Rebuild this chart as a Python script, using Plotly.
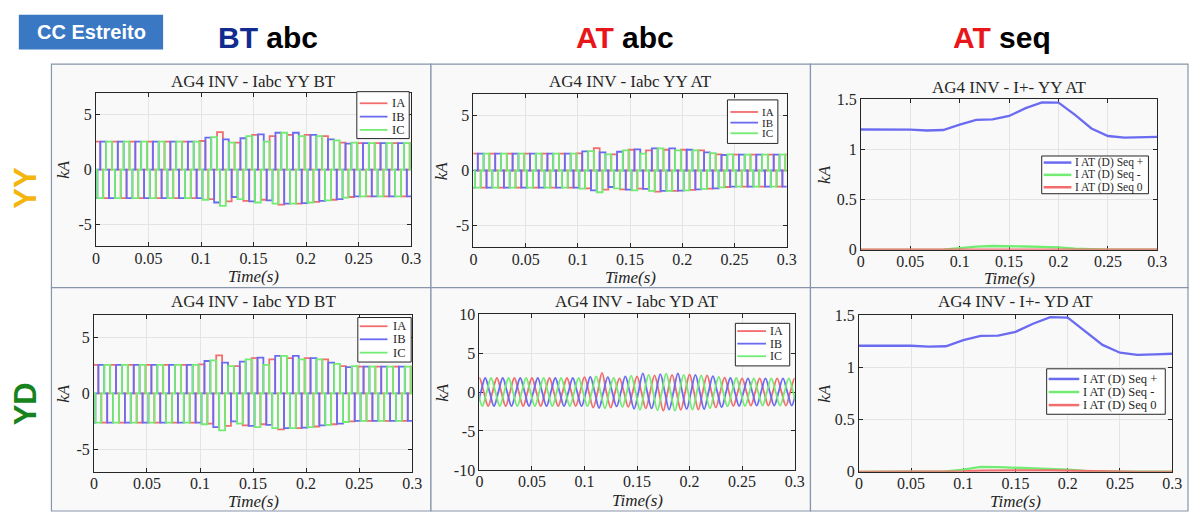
import plotly.graph_objects as go

W, H = 1198, 520
F_HZ = 60.0                      # system frequency
SERIF = "Liberation Serif"
SANS = "Liberation Sans"
INK = "#262626"

TIME_TICKS = [0, 0.05, 0.1, 0.15, 0.2, 0.25, 0.3]
TIME_TICK_TEXT = ["0", "0.05", "0.1", "0.15", "0.2", "0.25", "0.3"]

# ---- 120-degree block currents: magnitude (kA) of each successive block ----
# BT side (identical for YY and YD connections)
IA_BT = [2.55, 2.6] * 6 + [2.6, 2.7, 3.4, 2.9, 2.45, 2.85, 3.15, 2.75, 3.05, 3.2,
                           3.15, 3.1, 3.15, 2.95, 3.05, 2.75, 2.45, 2.5, 2.4, 2.45,
                           2.4, 2.45, 2.4, 2.45, 2.4]
IB_BT = [2.6, 2.55] * 6 + [2.6, 2.9, 3.0, 2.75, 2.5, 2.85, 2.9, 3.2, 2.8, 3.35,
                           3.1, 3.35, 3.05, 3.15, 2.85, 2.75, 2.7, 2.35, 2.45, 2.4,
                           2.45, 2.4, 2.45, 2.4, 2.45]
IC_BT = [2.6, 2.55] * 6 + [2.75, 2.95, 3.3, 2.45, 2.7, 3.05, 3.0, 2.55, 3.1, 3.35,
                           3.1, 3.05, 3.0, 3.05, 2.8, 2.65, 2.55, 2.45, 2.45, 2.4,
                           2.45, 2.4, 2.45, 2.4, 2.45]
# AT side, YY connection
IA_AT_YY = [1.53, 1.56] * 6 + [1.56, 1.62, 2.04, 1.74, 1.47, 1.71, 1.89, 1.65, 1.83, 1.92,
                               1.89, 1.86, 1.89, 1.77, 1.83, 1.65, 1.47, 1.5, 1.44, 1.47,
                               1.44, 1.47, 1.44, 1.47, 1.44]
IB_AT_YY = [1.56, 1.53] * 6 + [1.56, 1.74, 1.8, 1.65, 1.5, 1.71, 1.74, 1.92, 1.68, 2.01,
                               1.86, 2.01, 1.83, 1.89, 1.71, 1.65, 1.62, 1.41, 1.47, 1.44,
                               1.47, 1.44, 1.47, 1.44, 1.47]
IC_AT_YY = [1.56, 1.53] * 6 + [1.65, 1.77, 1.98, 1.47, 1.62, 1.83, 1.8, 1.53, 1.86, 2.01,
                               1.86, 1.83, 1.8, 1.83, 1.68, 1.59, 1.53, 1.47, 1.47, 1.44,
                               1.47, 1.44, 1.47, 1.44, 1.47]

# ---- AT side, YD connection: peak (kA) of each successive half cycle ----
IA_AT_YD = [1.8] * 14 + [1.9, 2.0, 2.45, 2.0, 1.75, 1.9, 2.0, 2.1, 2.15, 2.4,
                         2.2, 2.3, 2.25, 2.25, 2.15, 2.0, 1.85, 1.8] + [1.75] * 8
IB_AT_YD = [1.8] * 14 + [1.95, 2.05, 1.9, 1.85, 2.0, 2.15, 2.4, 2.1, 2.3, 2.25,
                         2.4, 2.2, 2.2, 2.2, 2.05, 1.95, 1.8, 1.8] + [1.75] * 8
IC_AT_YD = [1.8] * 14 + [2.0, 2.1, 1.8, 1.9, 2.1, 2.3, 2.2, 2.35, 2.35, 2.4,
                         2.2, 2.25, 2.15, 2.1, 1.95, 1.85, 1.8, 1.8] + [1.75] * 8

# ---- sequence components (kA), one value per cycle ----
SEQ_T = [0, 0.0167, 0.0333, 0.05, 0.0667, 0.0833, 0.1, 0.1167, 0.1333, 0.15,
         0.1667, 0.1833, 0.2, 0.2167, 0.2333, 0.25, 0.2667, 0.2833, 0.3]
SEQ_POS_YY = [1.2, 1.2, 1.2, 1.198, 1.19, 1.195, 1.248, 1.295, 1.3, 1.335,
              1.413, 1.47, 1.468, 1.345, 1.21, 1.135, 1.118, 1.122, 1.127]
SEQ_NEG_YY = [0, 0, 0, 0, 0, 0.002, 0.018, 0.032, 0.038, 0.038,
              0.033, 0.029, 0.025, 0.012, 0.004, 0.003, 0.002, 0.002, 0.002]
SEQ_ZERO_YY = [0.002] * 19
SEQ_POS_YD = [1.207, 1.207, 1.207, 1.207, 1.198, 1.202, 1.26, 1.302, 1.303, 1.34,
              1.417, 1.48, 1.477, 1.345, 1.215, 1.14, 1.12, 1.125, 1.13]
SEQ_NEG_YD = [0, 0, 0, 0, 0, 0.003, 0.02, 0.048, 0.045, 0.04,
              0.035, 0.03, 0.022, 0.008, 0.003, 0.002, 0.002, 0.002, 0.002]
SEQ_ZERO_YD = [0, 0, 0, 0, 0, 0, 0.005, 0.012, 0.015, 0.015,
               0.014, 0.013, 0.01, 0.004, 0, 0, 0, 0, 0]

PHASE_NAMES = ["IA", "IB", "IC"]
SEQ_NAMES = ["I AT (D) Seq +", "I AT (D) Seq -", "I AT (D) Seq 0"]

RED, BLUE, GREEN = "#f26d6d", "#6b6bf2", "#72ec72"
PHASE_COLORS = [RED, BLUE, GREEN]
SEQ_COLORS = [BLUE, GREEN, RED]


def deg_to_s(deg):
    return deg / 360.0 / F_HZ


def block_wave(levels, first_center_deg, first_sign):
    """Quasi-square 120-degree conduction blocks with zero gaps in between."""
    t = [deg_to_s(first_center_deg - 120)]
    y = [0.0]
    for h, v in enumerate(levels):
        c = first_center_deg + 180.0 * h
        s = first_sign if h % 2 == 0 else -first_sign
        t0, t1 = deg_to_s(c - 60), deg_to_s(c + 60)
        t += [t0, t0, t1, t1]
        y += [0.0, s * v, s * v, 0.0]
    return t, y


def smooth_wave(peaks, first_peak_deg):
    """Zero crossings and alternating half-cycle peaks joined by a spline."""
    t, y = [], []
    for h, p in enumerate(peaks):
        c = first_peak_deg + 180.0 * h
        s = 1 if h % 2 == 0 else -1
        t += [deg_to_s(c - 90), deg_to_s(c)]
        y += [0.0, s * p]
    t.append(deg_to_s(first_peak_deg + 180.0 * len(peaks) - 90))
    y.append(0.0)
    return t, y


def px(x):
    return x / W


def py(y):
    return 1 - y / H


fig = go.Figure()

# subplot geometry (pixels): left, right, top, bottom
AX = {
    1: (93, 412, 87.5, 246.5),
    2: (475, 792, 88.5, 247.5),
    3: (867, 1167, 94.5, 250),
    4: (91, 413, 317.5, 479.5),
    5: (481, 800, 316.5, 477.5),
    6: (865, 1182, 317.5, 479.5),
}
TITLES = {
    1: ("AG4 INV - Iabc YY BT", 75.5),
    2: ("AG4 INV - Iabc YY AT", 75.5),
    3: ("AG4 INV - I+- YY AT", 82.5),
    4: ("AG4 INV - Iabc YD BT", 303.5),
    5: ("AG4 INV - Iabc YD AT", 303),
    6: ("AG4 INV - I+- YD AT", 303),
}
YRANGES = {1: [-7, 7], 2: [-7, 7], 3: [0, 1.5], 4: [-7, 7], 5: [-10, 10], 6: [0, 1.5]}
YTICKS = {
    1: ([-5, 0, 5], ["-5", "0", "5"]),
    2: ([-5, 0, 5], ["-5", "0", "5"]),
    3: ([0, 0.5, 1, 1.5], ["0", "0.5", "1", "1.5"]),
    4: ([-5, 0, 5], ["-5", "0", "5"]),
    5: ([-10, -5, 0, 5, 10], ["-10", "-5", "0", "5", "10"]),
    6: ([0, 0.5, 1, 1.5], ["0", "0.5", "1", "1.5"]),
}
YLABEL_X = {1: 60, 2: 443, 3: 830, 4: 60, 5: 443, 6: 830}
XLABEL_Y = {1: 278, 2: 278.5, 3: 280, 4: 510, 5: 509, 6: 510}

# legend boxes: left, right, top, bottom; row centres; sample line x0, x1; text x; font size
LEGENDS = {
    1: dict(box=(357, 410, 86.5, 135), rows=[98.5, 112.3, 126], line=(360, 388), tx=391, fs=12.5),
    2: dict(box=(732, 783, 95, 140), rows=[107.5, 118.5, 129.5], line=(735, 763), tx=765, fs=11),
    3: dict(box=(1050, 1158, 153, 192), rows=[159.8, 172.5, 185.3], line=(1052, 1080), tx=1082, fs=11.5),
    4: dict(box=(358, 412, 320, 366), rows=[329, 342.5, 356.3], line=(360, 388), tx=392, fs=12.5),
    5: dict(box=(740, 795, 326, 370), rows=[334, 347, 360], line=(742, 771), tx=773, fs=12),
    6: dict(box=(1055, 1175, 373, 420), rows=[383.5, 397, 410.5], line=(1057, 1088), tx=1090, fs=12.5),
}

annotations = []
shapes = []

# phase waveforms
abc_sets = {
    1: ("block", IA_BT, IB_BT, IC_BT),
    2: ("block", IA_AT_YY, IB_AT_YY, IC_AT_YY),
    4: ("block", IA_BT, IB_BT, IC_BT),
    5: ("smooth", IA_AT_YD, IB_AT_YD, IC_AT_YD),
}
for k, (kind, ia, ib, ic) in abc_sets.items():
    xa = "x" if k == 1 else f"x{k}"
    ya = "y" if k == 1 else f"y{k}"
    if kind == "block":
        waves = [block_wave(ia, 30, 1), block_wave(ib, -30, -1), block_wave(ic, 90, -1)]
        shape = "linear"
    else:
        waves = [smooth_wave(ia, -360), smooth_wave(ib, -240), smooth_wave(ic, -120)]
        shape = "spline"
    for (t, y), name, col in zip(waves, PHASE_NAMES, PHASE_COLORS):
        fig.add_trace(go.Scatter(x=t, y=y, mode="lines", name=name, xaxis=xa, yaxis=ya,
                                 line=dict(color=col, width=1.8, shape=shape)))

# sequence components
for k, series in {3: (SEQ_POS_YY, SEQ_NEG_YY, SEQ_ZERO_YY),
                  6: (SEQ_POS_YD, SEQ_NEG_YD, SEQ_ZERO_YD)}.items():
    for vals, name, col in zip(series, SEQ_NAMES, SEQ_COLORS):
        fig.add_trace(go.Scatter(x=SEQ_T, y=vals, mode="lines", name=name,
                                 xaxis=f"x{k}", yaxis=f"y{k}",
                                 line=dict(color=col, width=2.3)))

axis_common = dict(
    showgrid=True, gridcolor="#e4e4e4", gridwidth=1, zeroline=False,
    showline=True, linecolor=INK, linewidth=1, mirror="ticks",
    ticks="inside", ticklen=4, tickcolor=INK, layer="below traces",
    tickfont=dict(family=SERIF, size=16, color=INK),
)

layout = dict(
    width=W, height=H, autosize=False,
    margin=dict(l=0, r=0, t=0, b=0),
    paper_bgcolor="white", plot_bgcolor="white",
    showlegend=False,
)

for k, (l, r, t, b) in AX.items():
    sx = "" if k == 1 else str(k)
    layout[f"xaxis{sx}"] = dict(axis_common, domain=[px(l), px(r)], range=[0, 0.3],
                                tickvals=TIME_TICKS, ticktext=TIME_TICK_TEXT,
                                anchor=f"y{sx}", ticklabelstandoff=-3)
    layout[f"yaxis{sx}"] = dict(axis_common, domain=[py(b), py(t)], range=YRANGES[k],
                                tickvals=YTICKS[k][0], ticktext=YTICKS[k][1],
                                anchor=f"x{sx}")
    title, ty = TITLES[k]
    annotations.append(dict(text=title, x=px((l + r) / 2), y=py(ty), xref="paper", yref="paper",
                            showarrow=False, xanchor="center", yanchor="middle",
                            font=dict(family=SERIF, size=17, color=INK)))
    annotations.append(dict(text="<i>Time(s)</i>", x=px((l + r) / 2), y=py(XLABEL_Y[k]),
                            xref="paper", yref="paper", showarrow=False,
                            xanchor="center", yanchor="middle",
                            font=dict(family=SERIF, size=17, color=INK)))
    annotations.append(dict(text="<i>kA</i>", x=px(YLABEL_X[k]), y=py((t + b) / 2),
                            xref="paper", yref="paper", showarrow=False, textangle=-90,
                            xanchor="center", yanchor="middle",
                            font=dict(family=SERIF, size=17, color=INK)))

    # boxed legend in the upper right of each axes
    lg = LEGENDS[k]
    bl, br, bt, bb = lg["box"]
    shapes.append(dict(type="rect", xref="paper", yref="paper", layer="above",
                       x0=px(bl), x1=px(br), y0=py(bb), y1=py(bt),
                       fillcolor="white", line=dict(color=INK, width=1)))
    if k in (3, 6):
        names, cols, lw = SEQ_NAMES, SEQ_COLORS, 2.5
    else:
        names, cols, lw = PHASE_NAMES, PHASE_COLORS, 1.8
    for ry, name, col in zip(lg["rows"], names, cols):
        shapes.append(dict(type="line", xref="paper", yref="paper", layer="above",
                           x0=px(lg["line"][0]), x1=px(lg["line"][1]), y0=py(ry), y1=py(ry),
                           line=dict(color=col, width=lw)))
        annotations.append(dict(text=name, x=px(lg["tx"]), y=py(ry), xref="paper", yref="paper",
                                showarrow=False, xanchor="left", yanchor="middle",
                                font=dict(family=SERIF, size=lg["fs"], color=INK)))

# framed panels
PANEL_BG = "#f9f9f9"
FRAME = "#8795ab"
for (x0, x1) in [(48, 432), (432, 816), (816, 1198)]:
    for (y0, y1) in [(58, 289), (289, 520)]:
        shapes.append(dict(type="rect", xref="paper", yref="paper",
                           x0=px(x0), x1=px(x1), y0=py(y1), y1=py(y0),
                           fillcolor=PANEL_BG, line=dict(color=FRAME, width=1.2),
                           layer="below"))

# header box
shapes.append(dict(type="rect", xref="paper", yref="paper", x0=px(15), x1=px(161),
                   y0=py(43), y1=py(7), fillcolor="#3a78c4", line=dict(width=0),
                   layer="below"))
annotations.append(dict(text="<b>CC Estreito</b>", x=px(89), y=py(25), xref="paper", yref="paper",
                        showarrow=False, xanchor="center", yanchor="middle",
                        font=dict(family=SANS, size=20, color="white")))

for cx, head, col, tail in [(267, "BT", "#112b8f", "abc"),
                            (628, "AT", "#e8161a", "abc"),
                            (1010, "AT", "#e8161a", "seq")]:
    annotations.append(dict(
        text=f"<b><span style='color:{col}'>{head}</span> {tail}</b>",
        x=px(cx), y=py(31), xref="paper", yref="paper", showarrow=False,
        xanchor="center", yanchor="middle",
        font=dict(family=SANS, size=30, color="black")))

for cy, txt, col in [(186, "YY", "#f4b50c"), (409, "YD", "#16831c")]:
    annotations.append(dict(text=f"<b>{txt}</b>", x=px(22), y=py(cy), xref="paper", yref="paper",
                            showarrow=False, textangle=-90, xanchor="center", yanchor="middle",
                            font=dict(family=SANS, size=31, color=col)))

layout["annotations"] = annotations
layout["shapes"] = shapes
fig.update_layout(**layout)

fig.write_html("out.html")
